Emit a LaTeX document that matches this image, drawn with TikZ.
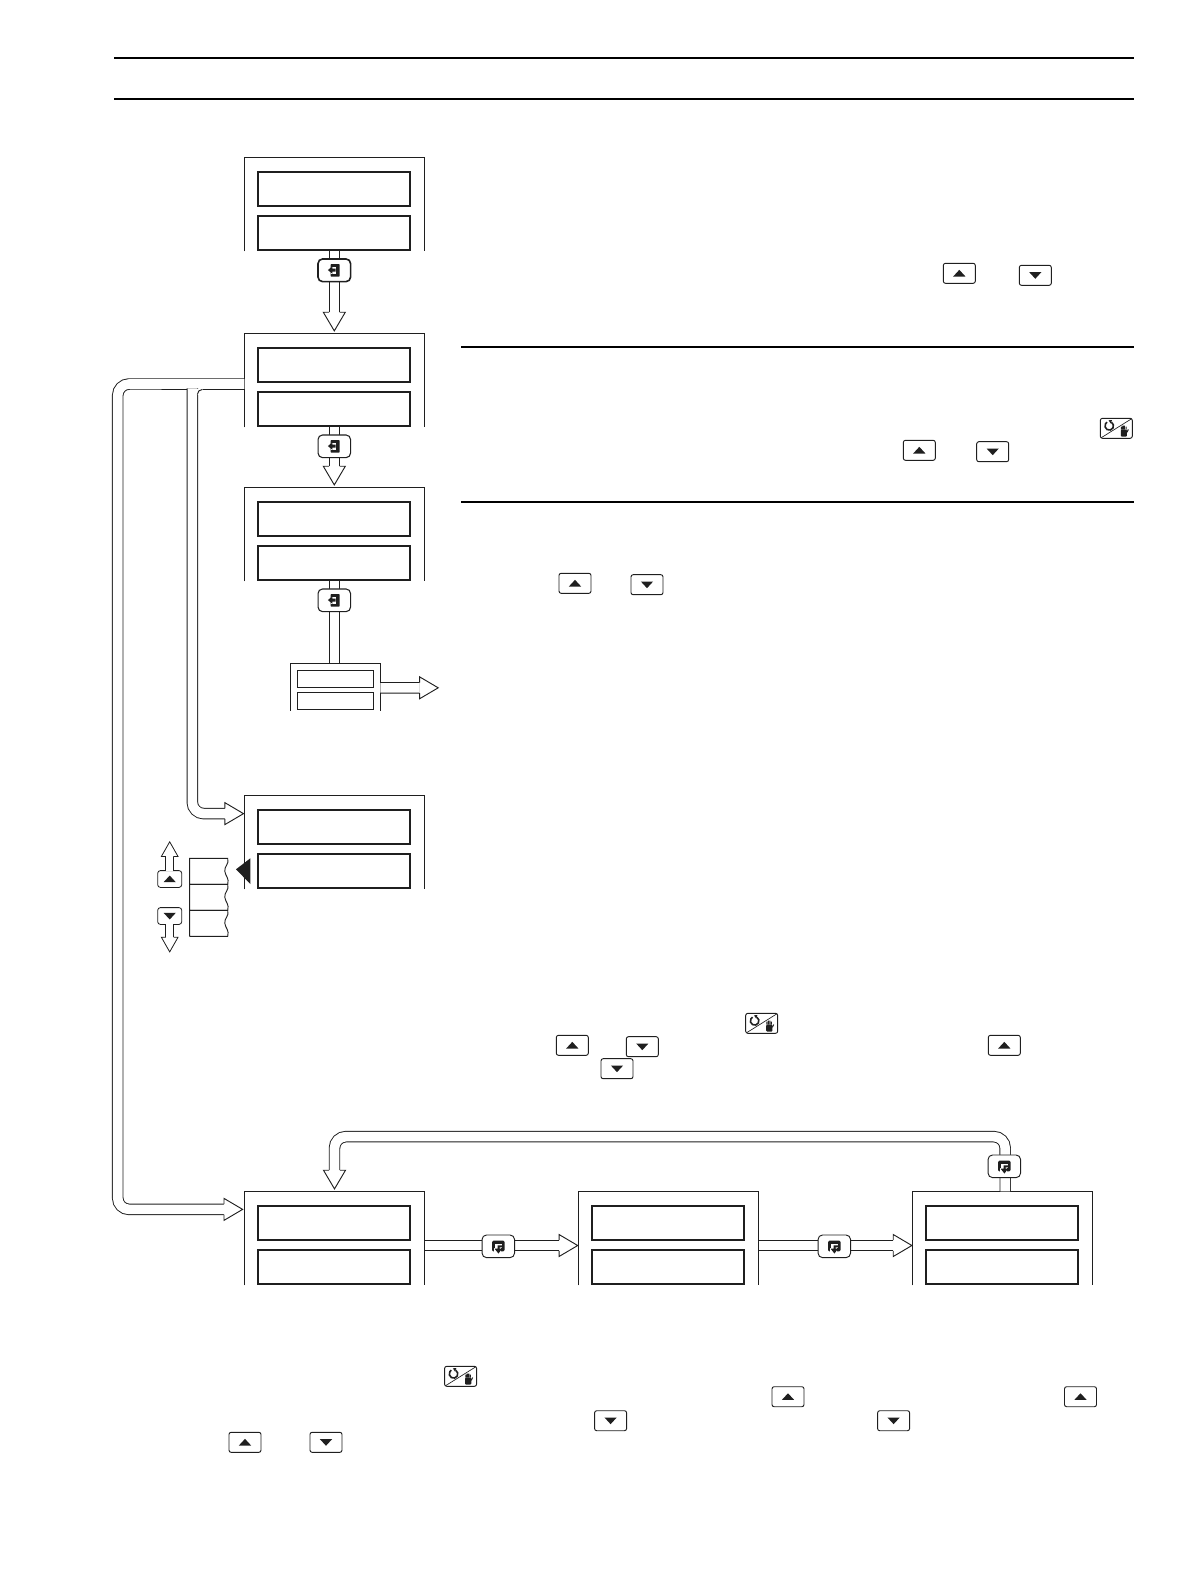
\documentclass[tikz,border=0pt]{standalone}
\usepackage{xcolor}
\usepackage{tikz}
\usetikzlibrary{arrows.meta,positioning}
\colorlet{ink}{black!88}
\pgfdeclarearrow{
  name=HollowHead,
  defaults={length=14pt, width=16.5pt, inset=3.95pt, line width=.7pt},
  setup code={
    \pgfarrowssettipend{.6pt}
    \pgfarrowssetlineend{-\pgfarrowlength}
    \pgfarrowssetbackend{-\pgfarrowlength}
    \pgfarrowssavethe\pgfarrowlength
    \pgfarrowssavethe\pgfarrowwidth
    \pgfarrowssavethe\pgfarrowinset
    \pgfarrowssavethe\pgfarrowlinewidth
  },
  drawing code={
    \pgfsetlinewidth{\pgfarrowlinewidth}
    \pgfsetinnerlinewidth{0pt}
    \pgfsetmiterjoin
    \pgfsetbuttcap
    \pgfsetfillcolor{white}
    \pgfpathmoveto{\pgfpoint{-\pgfarrowlength}{.5\pgfarrowwidth}}
    \pgfpathlineto{\pgfpoint{0pt}{0pt}}
    \pgfpathlineto{\pgfpoint{-\pgfarrowlength}{-.5\pgfarrowwidth}}
    \pgfpathclose
    \pgfusepathqfill
    \pgfpathmoveto{\pgfpoint{-\pgfarrowlength}{\pgfarrowinset}}
    \pgfpathlineto{\pgfpoint{-\pgfarrowlength}{.5\pgfarrowwidth}}
    \pgfpathlineto{\pgfpoint{0pt}{0pt}}
    \pgfpathlineto{\pgfpoint{-\pgfarrowlength}{-.5\pgfarrowwidth}}
    \pgfpathlineto{\pgfpoint{-\pgfarrowlength}{-\pgfarrowinset}}
    \pgfusepathqstroke
  },
  parameters={\the\pgfarrowlength,\the\pgfarrowwidth,\the\pgfarrowinset,\the\pgfarrowlinewidth}
}
\tikzset{
  panel/.style={minimum width=135pt, minimum height=70.5pt, inner sep=0pt, outer sep=0pt},
  panelline/.style={draw=ink, line width=.75pt},
  lcd/.style={draw=ink, fill=white, line width=1.3pt, minimum width=114pt, minimum height=25.5pt, inner sep=0pt, outer sep=0pt},
  minipanel/.style={minimum width=67.2pt, minimum height=35.5pt, inner sep=0pt, outer sep=0pt},
  minilcd/.style={draw=ink, fill=white, line width=.8pt, minimum width=57.3pt, minimum height=12.75pt, inner sep=0pt, outer sep=0pt},
  pipe/.style={draw=ink, line width=.7pt, double=white, double distance=7.2pt, rounded corners=8.6pt},
  pipetip/.style={pipe, shorten >=1.2pt, -{HollowHead[]}},
  thinpipe/.style={draw=ink, line width=.6pt, double=white, double distance=5.2pt, -{HollowHead[length=11pt, width=12.5pt, inset=2.9pt, line width=.6pt]}},
  rule/.style={draw=black, line width=1.5pt},
  keybox/.style={draw=ink, fill=white, line width=.7pt, rounded corners=1.6pt, minimum width=24pt, minimum height=15pt, inner sep=0pt, outer sep=0pt},
  smallkey/.style={minimum width=18pt, minimum height=12.6pt, rounded corners=2pt, line width=.6pt},
  upkey/.style={keybox, path picture={
    \fill[ink, sharp corners, shift={(path picture bounding box.center)}, scale=#1] (-4.6pt,-2.4pt) -- (4.6pt,-2.4pt) -- (0pt,2.6pt) -- cycle;}},
  upkey/.default=1,
  downkey/.style={keybox, path picture={
    \fill[ink, sharp corners, shift={(path picture bounding box.center)}, scale=#1] (-4.6pt,2.4pt) -- (4.6pt,2.4pt) -- (0pt,-2.6pt) -- cycle;}},
  downkey/.default=1,
  modekey/.style={keybox, path picture={
    \draw[ink, sharp corners, line width=.5pt] (path picture bounding box.south west) -- (path picture bounding box.north east);
    \begin{scope}[sharp corners, shift={(path picture bounding box.center)}]
      \draw[ink, line width=1.2pt] (-3.7pt,4.6pt) arc[start angle=60, end angle=-240, radius=3.2pt];
      \fill[ink] (-5.8pt,6pt) -- (-3.2pt,6.2pt) -- (-4.2pt,3.6pt) -- cycle;
      \fill[ink, rounded corners=.8pt] (3.4pt,-.9pt) rectangle (8pt,-6.3pt);
      \draw[ink, line width=.8pt] (3.9pt,-1pt) -- (3.9pt,1.2pt) (5pt,-1pt) -- (5pt,2pt) (6.1pt,-1pt) -- (6.1pt,2pt) (7.3pt,-1pt) -- (7.3pt,1.2pt) (8pt,-3pt) -- (9pt,-.9pt);
    \end{scope}}},
  enterkey/.style={draw=ink, fill=white, line width=.8pt, rounded corners=3.4pt, minimum width=24.4pt, minimum height=17pt, inner sep=0pt, outer sep=0pt, path picture={
    \begin{scope}[sharp corners, shift={(path picture bounding box.center)}]
      \fill[ink, rounded corners=.5pt] (-2.8pt,4.7pt) rectangle (4pt,-4.7pt);
      \fill[white] (-2.8pt,2.6pt) rectangle (1.5pt,-2.6pt);
      \fill[ink] (-4.8pt,.2pt) -- (-1.4pt,3pt) -- (-1.4pt,1.2pt) -- (.9pt,1.2pt) -- (.9pt,-.9pt) -- (-1.4pt,-.9pt) -- (-1.4pt,-2.6pt) -- cycle;
    \end{scope}}},
  cyclekey/.style={draw=ink, fill=white, line width=.7pt, rounded corners=3.4pt, minimum width=24.4pt, minimum height=17pt, inner sep=0pt, outer sep=0pt, path picture={
    \begin{scope}[sharp corners, shift={(path picture bounding box.center)}]
      \fill[ink, rounded corners=1pt] (-4.7pt,4.2pt) rectangle (4.7pt,-3.8pt);
      \fill[white] (-2.8pt,2pt) rectangle (2.8pt,-1.6pt);
      \fill[white] (-3.4pt,-1.2pt) rectangle (2pt,-4.2pt);
      \fill[ink] (2.8pt,.7pt) -- (-.6pt,.7pt) -- (-.6pt,-1.8pt) -- (-2.8pt,-1.8pt) -- (.1pt,-5.4pt) -- (2.8pt,-1.8pt) -- (1pt,-1.8pt) -- (1pt,-.8pt) -- (2.8pt,-.8pt) -- cycle;
    \end{scope}}}
}
\begin{document}
\begin{tikzpicture}[x=0.75pt,y=-0.75pt]
	\useasboundingbox (0,0) rectangle (1190,1588);
	\coordinate (topa) at (114,58);
	\coordinate (topb) at (1134,58);
	\coordinate (topc) at (114,98.7);
	\coordinate (topd) at (1134,98.7);
	\coordinate (sepa) at (461,347);
	\coordinate (sepb) at (1134,347);
	\coordinate (sepc) at (461,502);
	\coordinate (sepd) at (1134,502);
	\draw[rule] (topa) -- (topb);
	\draw[rule] (topc) -- (topd);
	\draw[rule] (sepa) -- (sepb);
	\draw[rule] (sepc) -- (sepd);

	\foreach \name/\x/\y in {d1/334.3/204.3, d2/334.3/380.3, d3/334.3/534.3, d4/334.3/842.3, d5/334.5/1238.3, d6/668.5/1238.3, d7/1002.7/1238.3} {
		\node[panel] (\name) at (\x,\y) {};
		\draw[panelline] (\name.south west) |- (\name.north east) -- (\name.south east);
		\node[lcd, below=11pt of \name.north, xshift=-.4pt] (\name top) {};
		\node[lcd, below=7.4pt of \name top] (\name low) {};
	}

	\node[minipanel] (mini) at (335.5,687) {};
	\draw[panelline] (mini.south west) |- (mini.north east) -- (mini.south east);
	\node[minilcd, below=5.2pt of mini.north] (mini top) {};
	\node[minilcd, below=3.8pt of mini top] (mini low) {};

	\coordinate (exitend) at (439,687.8);
	\coordinate (mainbend) at (117.7,384);
	\coordinate (mainlow) at (117.7,1209.4);
	\coordinate (branchtop) at (192.3,388.4);
	\coordinate (branchlow) at (192.3,813.6);
	\coordinate (loopright) at (1005.2,1136.6);
	\coordinate (loopleft) at (334.5,1136.6);

	\draw[pipetip] (d1.south) -- (d2.north);
	\draw[pipetip] (d2.south) -- (d3.north);
	\draw[pipe] (d3.south) -- (d3.south |- mini.north);
	\draw[pipetip, shorten >=0pt] ([yshift=-.6pt]mini.east) -- (exitend);

	\draw[pipetip, shorten >=.8pt] ([yshift=-2.8pt]d2.west) -- (mainbend) -- (mainlow) -- ([yshift=21.7pt]d5.west);
	\draw[pipetip, shorten >=0pt] (branchtop) -- (branchlow) -- ([yshift=21.5pt]d4.west);
	\fill[white] (196.8,388.8) rectangle (202.6,394.6);
	\draw[ink, line width=.7pt] (197.3,394.6) arc[start angle=180, end angle=90, radius=3.9pt];
	\draw[pipetip] ([xshift=1.9pt]d7.north) -- (loopright) -- (loopleft) -- (d5.north);
	\draw[pipetip, shorten >=0pt] ([yshift=-5.4pt]d5.east) -- ([yshift=-5.4pt]d6.west);
	\draw[pipetip, shorten >=0pt] ([yshift=-5.4pt]d6.east) -- ([yshift=-5.4pt]d7.west);

	\node[enterkey, line width=1.2pt] (ent1) at (334.3,270.3) {};
	\node[enterkey] (ent2) at (334.3,446.3) {};
	\node[enterkey] (ent3) at (334.3,600.3) {};
	\node[cyclekey] (cyc1) at (498.3,1246.3) {};
	\node[cyclekey] (cyc2) at (834.3,1246.3) {};
	\node[cyclekey] (cyc3) at (1004.3,1166.3) {};

	\foreach \name/\x/\y in {up1/959.3/273.3, up2/919.3/450.3, up3/575/583.3, up4/572.3/1045.3, up5/1004.3/1045.3, up6/788/1396.7, up7/1080.5/1396.7, up8/245/1442.3}
		\node[upkey] (\name) at (\x,\y) {};
	\foreach \name/\x/\y in {dn1/1035.3/275.3, dn2/992.7/451.7, dn3/647/584.7, dn4/642.3/1046.7, dn5/617/1068.7, dn6/610.6/1420.7, dn7/893.6/1420.7, dn8/326/1442.3}
		\node[downkey] (\name) at (\x,\y) {};
	\foreach \name/\x/\y in {mode1/1116.3/428.3, mode2/761.7/1023.3, mode3/460.6/1376.3}
		\node[modekey] (\name) at (\x,\y) {};

	\node[upkey=.8, smallkey] (scrollup) at (169.7,879) {};
	\node[downkey=.8, smallkey] (scrolldn) at (169.7,916) {};
	\coordinate (scrollupend) at (169.7,841);
	\coordinate (scrolldnend) at (169.7,952.7);
	\draw[thinpipe] (scrollup.north) -- (scrollupend);
	\draw[thinpipe] (scrolldn.south) -- (scrolldnend);

	\foreach \ya/\yb in {858.3/884.3, 884.3/910.3, 910.3/936.3}
		\draw[ink, line width=.7pt] (189.7,\yb) -- (189.7,\ya) -- (227.7,\ya) .. controls (229.5,\ya+6) and (224,\ya+8) .. (224.8,\ya+13) .. controls (225.5,\ya+18) and (229.5,\ya+20) .. (227.7,\yb) -- (189.7,\yb);
	\fill[ink] (236,869.3) -- (250.3,858.3) -- (250.3,884) -- cycle;
\end{tikzpicture}
\end{document}
